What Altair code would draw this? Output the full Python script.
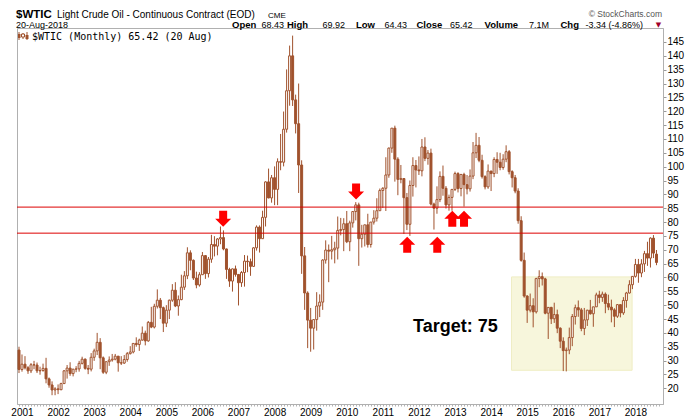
import altair as alt
import pandas as pd

# ---------------- data (monthly OHLC, Dec 2000 .. Aug 2018) ----------------
first_index = -1          # Dec 2000 = -1, Jan 2001 = 0, ...
opens = [
    33.8,
    26.8, 28.7, 27.4, 26.3, 28.5, 28.4, 26.3, 26.4, 27.2, 23.4, 21.2, 19.4,
    19.8, 19.5, 21.7, 26.3, 27.3, 25.3, 26.9, 27.0, 29.0, 30.5, 27.2, 26.9,
    31.2, 33.5, 36.6, 31.0, 25.8, 29.6, 30.2, 30.5, 31.6, 29.2, 29.1, 30.4,
    32.5, 33.1, 36.2, 35.8, 37.4, 39.9, 37.1, 43.8, 42.1, 49.6, 51.8, 49.1,
    43.5, 48.2, 51.8, 55.4, 49.7, 52.0, 56.5, 60.6, 68.9, 66.2, 59.8, 57.3,
    61.0, 67.9, 61.4, 66.6, 71.9, 71.3, 73.9, 74.4, 70.3, 62.9, 58.7, 63.1,
    61.1, 58.1, 61.8, 65.9, 65.7, 64.0, 70.7, 78.2, 74.0, 81.7, 94.5, 88.7,
    96.0, 91.8, 101.8, 101.6, 113.5, 127.4, 140.0, 124.1, 115.5, 100.6, 67.8, 54.4,
    44.6, 41.7, 44.8, 49.7, 51.1, 66.3, 69.9, 69.5, 70.0, 70.6, 77.0, 77.3,
    79.4, 72.9, 79.7, 83.8, 86.2, 74.0, 75.6, 79.0, 71.9, 80.0, 81.4, 84.1,
    91.4, 92.2, 97.0, 106.7, 113.9, 102.7, 95.4, 95.7, 88.8, 79.2, 93.2, 100.4,
    98.8, 98.5, 107.1, 103.0, 104.9, 86.5, 85.0, 88.1, 96.5, 92.2, 86.2, 88.9,
    91.8, 97.5, 92.1, 97.2, 93.5, 92.0, 96.6, 105.0, 107.7, 102.3, 96.4, 92.7,
    98.4, 97.5, 102.6, 101.6, 99.7, 102.7, 105.4, 98.2, 96.0, 91.2, 80.5, 66.2,
    53.3, 48.2, 49.8, 47.6, 59.6, 60.3, 59.5, 47.1, 49.2, 45.1, 46.6, 41.7,
    37.0, 33.6, 33.8, 38.3, 45.9, 49.1, 48.3, 41.6, 44.7, 48.2, 46.9, 49.4,
    53.7, 52.8, 54.0, 50.6, 49.3, 48.3, 46.0, 50.2, 47.2, 51.7, 54.4, 57.4,
    60.4, 64.7, 61.6, 64.9, 68.6, 67.0, 74.2, 68.43,
]
highs = [
    35.0,
    32.2, 31.6, 28.0, 29.1, 29.9, 29.3, 27.8, 28.9, 31.0, 23.9, 22.5, 20.4,
    21.4, 22.0, 26.6, 28.4, 29.4, 27.0, 28.0, 29.9, 31.4, 30.8, 28.4, 32.7,
    34.3, 40.0, 38.1, 31.5, 29.6, 31.5, 32.4, 32.4, 31.6, 31.6, 32.0, 33.1,
    35.2, 36.2, 38.4, 37.9, 42.3, 40.8, 44.3, 49.4, 50.5, 55.7, 52.6, 49.5,
    50.0, 52.0, 57.6, 58.3, 53.5, 61.0, 62.3, 70.9, 69.8, 66.5, 62.1, 61.9,
    69.2, 68.1, 67.4, 75.4, 74.9, 74.2, 78.4, 77.0, 70.4, 63.5, 63.2, 64.3,
    61.2, 62.3, 68.1, 67.9, 66.8, 70.9, 78.8, 78.8, 84.1, 94.7, 99.3, 97.0,
    100.1, 103.0, 111.8, 119.9, 135.1, 143.7, 147.3, 126.0, 130.0, 102.3, 71.0, 55.0,
    49.0, 44.3, 54.7, 53.9, 66.6, 73.4, 71.9, 75.0, 72.9, 82.0, 81.5, 81.4,
    84.0, 80.5, 83.9, 87.2, 87.0, 79.0, 79.0, 83.0, 80.0, 84.3, 88.6, 92.1,
    92.6, 103.4, 106.9, 113.9, 114.8, 103.4, 100.6, 95.9, 90.5, 95.0, 103.4, 102.4,
    103.7, 110.0, 110.6, 106.0, 106.5, 87.0, 92.9, 98.3, 100.4, 93.0, 89.9, 91.6,
    98.2, 98.0, 97.3, 97.8, 97.0, 99.0, 108.9, 112.2, 110.7, 104.3, 96.9, 100.8,
    98.5, 103.4, 105.2, 105.0, 104.5, 107.7, 106.0, 98.7, 97.0, 92.2, 82.1, 69.0,
    53.6, 54.2, 52.5, 59.9, 62.6, 61.8, 59.9, 49.3, 49.4, 50.9, 48.4, 42.0,
    38.4, 34.7, 41.9, 46.8, 50.2, 51.7, 49.0, 49.0, 48.3, 51.9, 49.2, 54.5,
    55.2, 54.9, 54.6, 53.8, 52.0, 48.9, 50.4, 50.2, 52.9, 54.8, 59.0, 60.5,
    66.7, 66.7, 66.6, 69.6, 72.9, 74.5, 75.3, 69.92,
]
lows = [
    25.5,
    26.0, 26.8, 25.2, 25.5, 26.9, 25.5, 24.9, 26.0, 21.8, 20.2, 17.5, 17.5,
    17.9, 19.3, 21.6, 23.5, 24.5, 24.3, 25.8, 26.0, 28.6, 26.7, 25.1, 26.1,
    29.9, 32.0, 26.9, 25.2, 25.1, 28.1, 29.6, 30.1, 26.0, 28.4, 28.8, 29.6,
    32.2, 32.6, 35.0, 33.5, 37.2, 35.5, 36.8, 41.7, 41.6, 48.8, 45.0, 40.3,
    42.1, 45.0, 51.2, 49.3, 46.2, 51.8, 55.5, 59.4, 62.6, 59.1, 56.1, 56.7,
    61.0, 59.5, 60.0, 65.3, 67.6, 68.0, 72.0, 69.8, 59.5, 56.6, 54.9, 60.3,
    49.9, 56.6, 56.7, 61.9, 60.6, 63.9, 69.7, 69.0, 73.9, 78.4, 88.6, 87.0,
    86.1, 86.1, 98.7, 100.1, 112.3, 122.0, 121.9, 112.0, 90.5, 61.3, 48.3, 34.5,
    33.2, 34.0, 40.8, 45.7, 48.3, 65.0, 58.3, 66.5, 65.1, 66.5, 75.2, 69.5,
    72.4, 69.5, 78.0, 80.6, 64.2, 70.8, 71.2, 70.8, 70.8, 79.1, 80.2, 84.0,
    85.1, 84.0, 96.0, 105.0, 94.6, 89.7, 94.0, 75.7, 77.1, 75.0, 89.2, 92.5,
    97.0, 96.5, 102.0, 100.7, 86.0, 77.3, 83.0, 87.2, 89.5, 84.9, 84.1, 84.1,
    91.2, 90.7, 89.3, 85.6, 90.0, 91.0, 95.5, 103.1, 101.6, 95.7, 91.8, 92.0,
    91.2, 96.2, 97.4, 98.7, 98.9, 101.6, 97.2, 92.5, 90.4, 79.4, 65.7, 52.7,
    43.6, 47.4, 42.0, 47.0, 56.5, 57.1, 46.7, 37.8, 43.2, 43.6, 39.9, 34.5,
    26.2, 26.1, 32.3, 35.2, 43.0, 45.8, 40.6, 39.2, 42.5, 46.6, 42.2, 49.4,
    50.7, 51.2, 47.1, 48.2, 43.8, 42.1, 45.4, 45.6, 46.5, 49.1, 54.2, 55.8,
    59.95, 58.1, 60.1, 62.0, 64.2, 63.6, 67.0, 64.43,
]
closes = [
    26.8,
    28.7, 27.4, 26.3, 28.5, 28.4, 26.3, 26.4, 27.2, 23.4, 21.2, 19.4, 19.8,
    19.5, 21.7, 26.3, 27.3, 25.3, 26.9, 27.0, 29.0, 30.5, 27.2, 26.9, 31.2,
    33.5, 36.6, 31.0, 25.8, 29.6, 30.2, 30.5, 31.6, 29.2, 29.1, 30.4, 32.5,
    33.1, 36.2, 35.8, 37.4, 39.9, 37.1, 43.8, 42.1, 49.6, 51.8, 49.1, 43.5,
    48.2, 51.8, 55.4, 49.7, 52.0, 56.5, 60.6, 68.9, 66.2, 59.8, 57.3, 61.0,
    67.9, 61.4, 66.6, 71.9, 71.3, 73.9, 74.4, 70.3, 62.9, 58.7, 63.1, 61.1,
    58.1, 61.8, 65.9, 65.7, 64.0, 70.7, 78.2, 74.0, 81.7, 94.5, 88.7, 96.0,
    91.8, 101.8, 101.6, 113.5, 127.4, 140.0, 124.1, 115.5, 100.6, 67.8, 54.4, 44.6,
    41.7, 44.8, 49.7, 51.1, 66.3, 69.9, 69.5, 70.0, 70.6, 77.0, 77.3, 79.4,
    72.9, 79.7, 83.8, 86.2, 74.0, 75.6, 79.0, 71.9, 80.0, 81.4, 84.1, 91.4,
    92.2, 97.0, 106.7, 113.9, 102.7, 95.4, 95.7, 88.8, 79.2, 93.2, 100.4, 98.8,
    98.5, 107.1, 103.0, 104.9, 86.5, 85.0, 88.1, 96.5, 92.2, 86.2, 88.9, 91.8,
    97.5, 92.1, 97.2, 93.5, 92.0, 96.6, 105.0, 107.7, 102.3, 96.4, 92.7, 98.4,
    97.5, 102.6, 101.6, 99.7, 102.7, 105.4, 98.2, 96.0, 91.2, 80.5, 66.2, 53.3,
    48.2, 49.8, 47.6, 59.6, 60.3, 59.5, 47.1, 49.2, 45.1, 46.6, 41.7, 37.0,
    33.6, 33.8, 38.3, 45.9, 49.1, 48.3, 41.6, 44.7, 48.2, 46.9, 49.4, 53.7,
    52.8, 54.0, 50.6, 49.3, 48.3, 46.0, 50.2, 47.2, 51.7, 54.4, 57.4, 60.4,
    64.7, 61.6, 64.9, 68.6, 67.0, 74.2, 68.8, 65.42,
]

# horizontal resistance / support levels
levels = [85.4, 76.0]
# shaded target zone (month index range, price range)
zone_months = [162.8, 202.9]
zone_prices = [26.5, 60.2]
# red arrows (month index, price at arrow centre)
down_arrow_months = [66.9, 111.1]
down_arrow_prices = [81.2, 91.0]
up_arrow_months = [128.1, 138.1, 143.1, 147.0]
up_arrow_prices = [71.8, 71.8, 81.2, 81.2]
y_ticks = list(range(20, 150, 5))

# ---------------- build tables ----------------
n = len(opens)
df = pd.DataFrame({
    "i": list(range(first_index, first_index + n)),
    "o": opens, "h": highs, "l": lows, "c": closes,
})
SIENNA = "#a0522d"
df["top"] = df[["o", "c"]].max(axis=1)
df["bot"] = df[["o", "c"]].min(axis=1)
df["xl"] = df["i"] - 0.33
df["xr"] = df["i"] + 0.33
df["fillc"] = ["#ffffff" if c >= o else SIENNA for o, c in zip(df.o, df.c)]

zone_df = pd.DataFrame({"x1": [zone_months[0]], "x2": [zone_months[1]],
                        "y1": [zone_prices[0]], "y2": [zone_prices[1]]})
lev_df = pd.DataFrame({"v": levels})
dn_df = pd.DataFrame({"m": down_arrow_months, "p": down_arrow_prices})
up_df = pd.DataFrame({"m": up_arrow_months, "p": up_arrow_prices})

# ---------------- scales / axes ----------------
xs = alt.Scale(domain=[-1.66, 213.17], nice=False, zero=False)
ys = alt.Scale(domain=[14.33, 150.05], nice=False, zero=False)
xa = alt.Axis(values=list(range(-1, 213)),
              labelExpr="datum.value % 12 == 0 ? toString(2001 + datum.value / 12) : ''",
              tickSize=2, tickColor="#b4b4b4", domainColor="#b0b0b0",
              labelFont="Arial", labelFontSize=10, labelColor="#000000",
              labelPadding=1, labelOverlap=False, labelFlush=False,
              grid=False, title="")
ya = alt.Axis(orient="right", values=y_ticks, tickSize=3, tickColor="#999999",
              domainColor="#b0b0b0", labelFont="Arial", labelFontSize=10,
              labelColor="#000000", labelPadding=1, labelFlush=False,
              grid=False, title="")

OX, OY = 17, 28   # plot origin on the page


def txt(s, x, y, size=10, weight="normal", color="#000000", font="Arial", align="left"):
    return alt.Chart(alt.Data(values=[{}])).mark_text(
        text=s, font=font, fontSize=size, fontWeight=weight, color=color,
        align=align, baseline="alphabetic"
    ).encode(x=alt.value(x - OX), y=alt.value(y - OY))


def box(x1, x2, y1, y2, fill, stroke=None):
    kw = {"fill": fill}
    if stroke:
        kw.update(stroke=stroke, strokeWidth=1)
    return alt.Chart(alt.Data(values=[{}])).mark_rect(**kw).encode(
        x=alt.value(x1 - OX), x2=alt.value(x2 - OX),
        y=alt.value(y1 - OY), y2=alt.value(y2 - OY))


zone = alt.Chart(zone_df).mark_rect(fill="#f7f6dc", stroke="#efedc4", strokeWidth=1).encode(
    x=alt.X("x1:Q", scale=xs, axis=xa), x2="x2:Q",
    y=alt.Y("y1:Q", scale=ys, axis=ya), y2="y2:Q")

wicks = alt.Chart(df).mark_rule(color=SIENNA, strokeWidth=1).encode(
    x=alt.X("i:Q", scale=xs, axis=xa),
    y=alt.Y("l:Q", scale=ys, axis=ya), y2="h:Q")

bodies = alt.Chart(df).mark_rect(stroke=SIENNA, strokeWidth=1).encode(
    x=alt.X("xl:Q", scale=xs, axis=xa), x2="xr:Q",
    y=alt.Y("bot:Q", scale=ys, axis=ya), y2="top:Q",
    fill=alt.Fill("fillc:N", scale=None))

lines = alt.Chart(lev_df).mark_rule(color="#dd0000", strokeWidth=1).encode(
    y=alt.Y("v:Q", scale=ys, axis=ya))

DOWN = "M-0.5,-1L0.5,-1L0.5,0L1,0L0,1L-1,0L-0.5,0Z"
UP = "M-0.5,1L0.5,1L0.5,0L1,0L0,-1L-1,0L-0.5,0Z"
dn = alt.Chart(dn_df).mark_point(shape=DOWN, filled=True, size=256, color="#ff0000",
                                 opacity=1, strokeWidth=0).encode(
    x=alt.X("m:Q", scale=xs, axis=xa), y=alt.Y("p:Q", scale=ys, axis=ya))
up = alt.Chart(up_df).mark_point(shape=UP, filled=True, size=256, color="#ff0000",
                                 opacity=1, strokeWidth=0).encode(
    x=alt.X("m:Q", scale=xs, axis=xa), y=alt.Y("p:Q", scale=ys, axis=ya))

L1, L2 = 18, 28.2   # header baselines
texts = [
    txt("$WTIC", 16, L1, size=11.5, weight="bold"),
    txt("Light Crude Oil - Continuous Contract (EOD)", 57, L1, size=10),
    txt("CME", 268, L1, size=8),
    txt("\u00a9 StockCharts.com", 662, 16.5, size=8.5, color="#555555", align="right"),
    txt("20-Aug-2018", 16, L2, size=9),
    txt("Open", 232, L2, size=9.5, weight="bold"),
    txt("68.43", 261.5, L2, size=9),
    txt("High", 287, L2, size=9.5, weight="bold"),
    txt("69.92", 322.5, L2, size=9),
    txt("Low", 356, L2, size=9.5, weight="bold"),
    txt("64.43", 384.5, L2, size=9),
    txt("Close", 416.5, L2, size=9.5, weight="bold"),
    txt("65.42", 450, L2, size=9),
    txt("Volume", 484.5, L2, size=9.5, weight="bold"),
    txt("7.1M", 529, L2, size=9),
    txt("Chg", 560.5, L2, size=9.5, weight="bold"),
    txt("-3.34 (-4.86%)", 585.5, L2, size=9),
    txt("\u25bc", 658.5, L2 - 1, size=7, color="#a0002a", align="center", font="DejaVu Sans"),
    txt("$WTIC (Monthly) 65.42 (20 Aug)", 32, 40, size=10, font="DejaVu Sans Mono"),
    txt("Target: 75", 413, 332, size=18, weight="bold"),
]

icon = [
    box(18.5, 19.5, 32, 40, SIENNA),
    box(18, 20.5, 34, 38, SIENNA),
    box(22.5, 23.5, 33, 39, SIENNA),
    box(21.5, 24.5, 34, 37, "#ffffff", SIENNA),
    box(26.5, 27.5, 32, 40, SIENNA),
    box(25.5, 28.5, 35, 39, SIENNA),
]

chart = alt.layer(zone, wicks, bodies, lines, dn, up, *texts, *icon).properties(
    width=646, height=376,
    autosize=alt.AutoSizeParams(type="none"),
    padding={"left": 9, "top": 20, "right": 29, "bottom": 16},
).configure_view(stroke="#b0b0b0", strokeWidth=1)

chart.save("out.html", embed_options={"renderer": "svg", "actions": False})
